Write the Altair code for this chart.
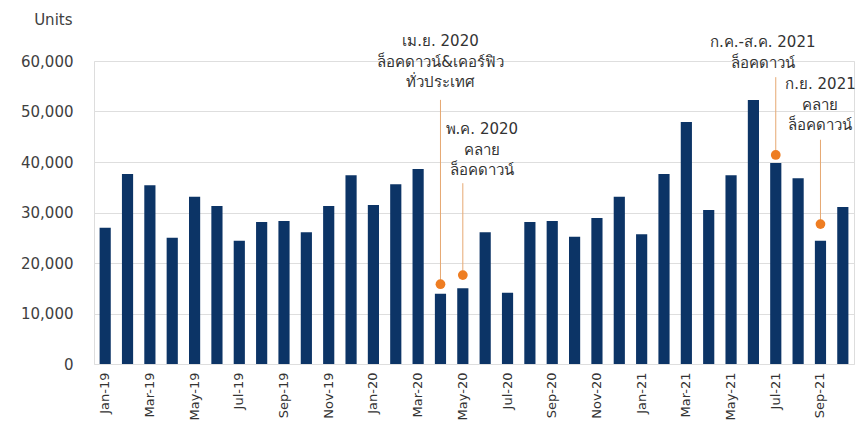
import altair as alt
import pandas as pd

months = [
    "Jan-19", "Feb-19", "Mar-19", "Apr-19", "May-19", "Jun-19", "Jul-19", "Aug-19",
    "Sep-19", "Oct-19", "Nov-19", "Dec-19",
    "Jan-20", "Feb-20", "Mar-20", "Apr-20", "May-20", "Jun-20", "Jul-20", "Aug-20",
    "Sep-20", "Oct-20", "Nov-20", "Dec-20",
    "Jan-21", "Feb-21", "Mar-21", "Apr-21", "May-21", "Jun-21", "Jul-21", "Aug-21",
    "Sep-21", "Oct-21",
]
units = [
    27000, 37600, 35400, 25000, 33100, 31300, 24400, 28100, 28300, 26100, 31300, 37400,
    31500, 35600, 38600, 13900, 15000, 26100, 14100, 28100, 28300, 25200, 28900, 33100,
    25700, 37600, 47900, 30500, 37400, 52300, 39800, 36800, 24400, 31100,
]
tick_labels = months[::2]
y_ticks = [0, 10000, 20000, 30000, 40000, 50000, 60000]

# event markers
event_month = ["Apr-20", "May-20", "Jul-21", "Sep-21"]
event_dot = [15800, 17600, 41400, 27700]
event_rule_top = [52300, 35800, 56800, 44400]
event_text = [
    "เม.ย. 2020\nล็อคดาวน์&เคอร์ฟิว\nทั่วประเทศ",
    "พ.ค. 2020\nคลาย\nล็อคดาวน์",
    "ก.ค.-ส.ค. 2021\nล็อคดาวน์",
    "ก.ย. 2021\nคลาย\nล็อคดาวน์",
]
event_text_y = [65300, 47900, 65100, 56800]
event_text_dx = [0, 19, -13, 0]

bars_df = pd.DataFrame({"month": months, "units": units})
ev_df = pd.DataFrame({
    "month": event_month, "dot": event_dot, "top": event_rule_top,
    "text": event_text, "ty": event_text_y, "dx": event_text_dx,
})

FONT = "DejaVu Sans"
NAVY = "#0c3466"
ORANGE = "#ee7d22"

x_scale = alt.Scale(paddingInner=0.5, paddingOuter=0.25)
y_scale = alt.Scale(domain=[0, 60000], nice=False)

x_axis = alt.Axis(values=tick_labels, labelAngle=-90, labelFontSize=13, labelColor="#333333",
                  labelFont=FONT, labelPadding=8, ticks=False, domain=False, grid=False)
y_axis = alt.Axis(values=y_ticks, format=",.0f", labelFontSize=15, labelColor="#404040",
                  labelFont=FONT, labelPadding=21, ticks=False, domain=False,
                  gridColor="#dedede", gridWidth=1, titleAngle=0, titleAlign="right",
                  titleBaseline="alphabetic", titleX=-22, titleY=-37, titleFontSize=15,
                  titleFontWeight="normal", titleColor="#404040", titleFont=FONT)


def xe():
    return alt.X("month:N", sort=months, title=None, scale=x_scale, axis=x_axis)


def ye(field):
    return alt.Y(field, scale=y_scale, title="Units", axis=y_axis)


bars = alt.Chart(bars_df).mark_bar(color=NAVY).encode(
    x=xe(),
    y=ye("units:Q"),
)

rules = alt.Chart(ev_df).mark_rule(color="#e6a872", strokeWidth=1).encode(
    x=xe(),
    y=ye("dot:Q"),
    y2="top:Q",
)

dots = alt.Chart(ev_df).mark_circle(color=ORANGE, size=95, opacity=1).encode(
    x=xe(),
    y=ye("dot:Q"),
)

text_layers = []
for i in range(len(event_month)):
    sub = ev_df.iloc[[i]]
    text_layers.append(
        alt.Chart(sub).mark_text(
            font=FONT, fontSize=15, color="#333333", align="center", baseline="top",
            lineBreak="\n", lineHeight=20.5, dx=int(event_text_dx[i]),
        ).encode(
            x=xe(),
            y=ye("ty:Q"),
            text="text:N",
        )
    )

chart = alt.layer(bars, rules, dots, *text_layers).properties(
    width=760, height=303,
    autosize=alt.AutoSizeParams(type="none"),
    padding={"left": 94, "top": 61, "right": 8, "bottom": 81},
).configure_view(stroke="transparent", strokeWidth=0).configure(
    background="white"
).configure_axis(domain=False, ticks=False)

chart.save("out.html", embed_options={"renderer": "svg", "actions": False})
